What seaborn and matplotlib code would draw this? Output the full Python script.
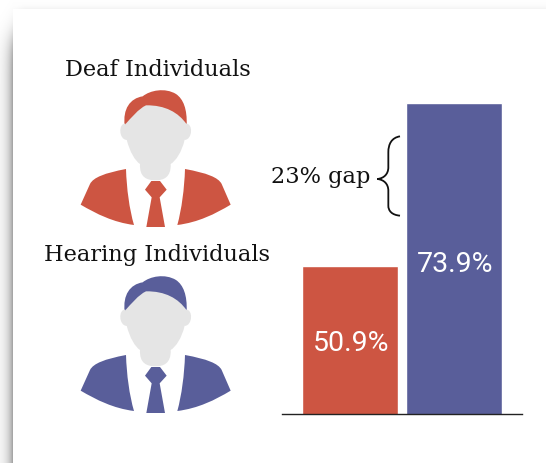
import numpy as np
import matplotlib
matplotlib.use("Agg")
import matplotlib.pyplot as plt
from matplotlib.patches import PathPatch, Rectangle
from matplotlib.path import Path
import seaborn as sns

# Employment rates by group
groups = ["Deaf Individuals", "Hearing Individuals"]
rates = [50.9, 73.9]
rate_labels = ["50.9%", "73.9%"]
gap_label = "23% gap"

RED = "#CD5542"
BLUE = "#595E9A"
SKIN = "#E5E5E5"
SERIF = "DejaVu Serif"
W, H = 546, 464

sns.set_theme(style="white")
plt.rcParams["font.family"] = ["Roboto", "DejaVu Sans"]

fig = plt.figure(figsize=(W / 100, H / 100), dpi=100, facecolor="white")

# Full-figure canvas in pixel units for the card, figures and annotation
canvas = fig.add_axes([0, 0, 1, 1], zorder=0)
canvas.set_xlim(0, W)
canvas.set_ylim(H, 0)
canvas.axis("off")

# Soft drop shadow behind the card: strong on the left, faint along the top
xx, yy = np.meshgrid(np.arange(W) + 0.5, np.arange(H) + 0.5)
left_glow = 0.38 * np.exp((np.minimum(xx, 13) - 13) / 6.0) / (1.0 + np.exp(-(yy - 38) / 9.0))
top_glow = 0.05 * np.exp((np.minimum(yy, 10) - 10) / 3.5) * np.clip((xx - 5) / 20, 0, 1)
rgba = np.zeros((H, W, 4))
rgba[..., 3] = np.maximum(left_glow, np.where(yy < 10, top_glow, 0))
canvas.imshow(rgba, extent=(0, W, H, 0), aspect="auto", zorder=0, interpolation="bilinear")
canvas.set_xlim(0, W)
canvas.set_ylim(H, 0)
canvas.add_patch(Rectangle((13, 10), W, H, fc="white", ec="none", zorder=1))

M, L, Z, C4 = Path.MOVETO, Path.LINETO, Path.CLOSEPOLY, Path.CURVE4

HAIR = [(M, 224, 230), (C4, 218, 180), (C4, 240, 148), (C4, 278, 142),
        (C4, 300, 124), (C4, 345, 115), (C4, 378, 135),
        (C4, 400, 150), (C4, 412, 180), (C4, 410, 230),
        (L, 224, 230), (Z, 224, 230)]
FACE = [(M, 224, 228), (C4, 245, 205), (C4, 265, 180), (C4, 288, 169),
        (C4, 345, 168), (C4, 385, 190), (C4, 410, 226),
        (C4, 412, 250), (C4, 408, 262), (C4, 404, 272),
        (C4, 395, 310), (C4, 378, 335), (C4, 362, 345),
        (C4, 364, 385), (C4, 340, 394), (C4, 318, 394),
        (C4, 290, 394), (C4, 268, 385), (C4, 270, 345),
        (C4, 255, 335), (C4, 240, 310), (C4, 230, 272),
        (C4, 226, 262), (C4, 222, 250), (C4, 224, 228), (Z, 224, 228)]
EAR_LEFT = [(M, 226, 224), (C4, 205, 222), (C4, 205, 272), (C4, 231, 273), (Z, 226, 224)]
EAR_RIGHT = [(M, 408, 224), (C4, 429, 222), (C4, 429, 272), (C4, 403, 273), (Z, 408, 224)]
BODY_LEFT = [(M, 92, 467), (L, 120, 405), (C4, 130, 385), (C4, 165, 372), (C4, 228, 360),
             (C4, 230, 420), (C4, 238, 480), (C4, 252, 528),
             (C4, 190, 520), (C4, 140, 495), (C4, 92, 467), (Z, 92, 467)]
BODY_RIGHT = [(M, 542, 467), (L, 515, 405), (C4, 505, 385), (C4, 470, 372), (C4, 405, 360),
              (C4, 403, 420), (C4, 395, 480), (C4, 382, 528),
              (C4, 445, 520), (C4, 495, 495), (C4, 542, 467), (Z, 542, 467)]
TIE = [(M, 285, 422), (L, 304, 396), (L, 330, 396), (L, 350, 422), (L, 329, 445),
       (L, 345, 534), (L, 289, 534), (L, 305, 445), (Z, 285, 422)]


def outline(steps, left, top):
    codes = [s[0] for s in steps]
    verts = [(s[1] / 3 + left, s[2] / 3 + top) for s in steps]
    return Path(verts, codes)


def draw_person(left, top, color):
    parts = ((BODY_LEFT, color), (BODY_RIGHT, color), (TIE, color), (HAIR, color),
             (EAR_LEFT, SKIN), (EAR_RIGHT, SKIN), (FACE, SKIN))
    for shape, fc in parts:
        canvas.add_patch(PathPatch(outline(shape, left, top), fc=fc, ec="none", zorder=3))


draw_person(50, 50, RED)
draw_person(50, 236, BLUE)

canvas.text(157.5, 70, groups[0], family=SERIF, fontsize=16.2, color="#111111",
            ha="center", va="center", zorder=4)
canvas.text(156.5, 255, groups[1], family=SERIF, fontsize=16.2, color="#111111",
            ha="center", va="center", zorder=4)

# Curly brace marking the gap between the two bars
brace = [(M, 420, 142), (C4, 395, 146), (C4, 385, 165), (C4, 385, 190),
         (L, 385, 235), (C4, 385, 255), (C4, 372, 268), (C4, 352, 270),
         (C4, 372, 272), (C4, 385, 285), (C4, 385, 305),
         (L, 385, 350), (C4, 385, 365), (C4, 395, 378), (C4, 420, 380)]
canvas.add_patch(PathPatch(outline(brace, 260, 90), fc="none", ec="#111111", lw=1.3, zorder=4))
canvas.text(320.5, 177, gap_label, family=SERIF, fontsize=16.2, color="#111111",
            ha="center", va="center", zorder=4)

# Bar panel with its truncated vertical scale
x0, x1, y_top, y_base = 282, 522, 90, 414.5
bars = fig.add_axes([x0 / W, 1 - y_base / H, (x1 - x0) / W, (y_base - y_top) / H], zorder=2)
bars.patch.set_alpha(0)
sns.barplot(x=groups, y=rates, hue=groups, palette=[RED, BLUE], width=0.923,
            legend=False, saturation=1, ax=bars)
scale = 163 / (rates[1] - rates[0])
floor = rates[0] - (y_base - 267) / scale
bars.set_ylim(floor, floor + (y_base - y_top) / scale)
bars.set_xlim(-0.654, 1.654)
bars.set_xticks([])
bars.set_yticks([])
bars.set_xlabel("")
bars.set_ylabel("")
sns.despine(ax=bars, left=True)
bars.spines["bottom"].set_color("#222222")
bars.spines["bottom"].set_linewidth(1.0)

for i, (value, label) in enumerate(zip(rates, rate_labels)):
    text_y = [344, 264.5][i]
    bars.text(i + 0.01, floor + (y_base - text_y) / scale, label, color="white", fontsize=20.5,
              ha="center", va="center")

fig.savefig("out.png", dpi=100)
